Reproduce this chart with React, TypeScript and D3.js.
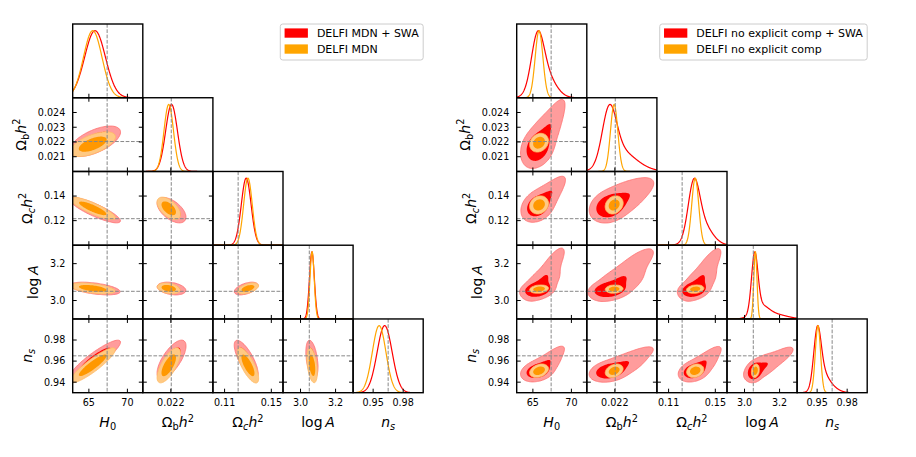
import { useEffect, useRef } from 'react';
import * as d3 from 'd3';

// parameter axes shared by both corner plots: H0, Ωbh², Ωch², logA, ns
const paramRanges: [number, number][] = [[62.9, 72.0], [0.02, 0.025], [0.1, 0.16], [2.9, 3.3], [0.93, 1.0]];
const xTicks: number[][] = [[65, 70], [0.022], [0.11, 0.15], [3.0, 3.2], [0.95, 0.98]];
const yTicks: number[][] = [[], [0.021, 0.022, 0.023, 0.024], [0.12, 0.14], [3.0, 3.2], [0.94, 0.96, 0.98]];
const tickFormats = ['d', '.3f', '.2f', '.1f', '.2f'];
const truth = [67.37, 0.02203, 0.1216, 3.05, 0.965];

// order of the correlation coefficients below
const pairOrder = [[0, 1], [0, 2], [0, 3], [0, 4], [1, 2], [1, 3], [1, 4], [2, 3], [2, 4], [3, 4]];

// left plot: DELFI MDN (+ SWA)
const mdnSwaMean = [65.8, 0.02205, 0.1285, 3.065, 0.9615];
const mdnSwaSd = [1.35, 0.00042, 0.0042, 0.014, 0.0075];
const mdnSwaCorr = [0.6, -0.85, -0.5, 0.9, -0.55, -0.3, 0.7, 0.5, -0.75, -0.4];
const mdnMean = [65.5, 0.02185, 0.13, 3.066, 0.956];
const mdnSd = [1.2, 0.00034, 0.0037, 0.012, 0.0068];
const mdnCorr = [0.6, -0.85, -0.5, 0.9, -0.55, -0.3, 0.7, 0.5, -0.75, -0.4];

// right plot: DELFI no explicit comp (+ SWA); the SWA posterior is a core with a long skewed tail
const noCompMean = [65.8, 0.02195, 0.1328, 3.062, 0.9508];
const noCompSd = [0.5, 0.00026, 0.003, 0.009, 0.0026];
const noCompCorr = [0.2, 0.15, 0.2, 0.3, 0.2, 0.1, 0.3, 0.2, 0.2, 0.2];
const noCompSwaWeights = [0.55, 0.3, 0.15];
const noCompSwaCoreMean = [65.6, 0.0216, 0.1315, 3.058, 0.9502];
const noCompSwaCoreSd = [0.8, 0.0005, 0.0048, 0.018, 0.0036];
const noCompSwaCoreCorr = [0.2, 0.2, 0.2, 0.2, 0.2, 0.2, 0.2, 0.2, 0.2, 0.2];
const noCompSwaMidMean = [66.1, 0.0222, 0.1355, 3.09, 0.954];
const noCompSwaMidSd = [1.2, 0.0009, 0.0075, 0.045, 0.006];
const noCompSwaMidCorr = [0.55, 0.55, 0.55, 0.55, 0.45, 0.55, 0.55, 0.55, 0.55, 0.55];
const noCompSwaTailMean = [67.3, 0.0232, 0.143, 3.18, 0.962];
const noCompSwaTailSd = [1.1, 0.001, 0.0075, 0.065, 0.0075];
const noCompSwaTailCorr = [0.8, 0.8, 0.8, 0.8, 0.65, 0.8, 0.8, 0.8, 0.8, 0.8];

const leftLabels = ['DELFI MDN + SWA', 'DELFI MDN'];
const rightLabels = ['DELFI no explicit comp + SWA', 'DELFI no explicit comp'];

type Component = { weight: number; mean: number[]; sd: number[]; corr: number[] };
type Posterior = { label: string; line: string; inner: string; outer: string; edge: string; components: Component[] };

const redStyle = { line: '#ff0000', inner: '#ff0000', outer: '#ff9c9c', edge: '#ff6e6e' };
const orangeStyle = { line: '#ffa500', inner: '#ff9800', outer: '#ffc983', edge: '#ffbb66' };

const plots: { x0: number; posteriors: Posterior[] }[] = [
  {
    x0: 72.7,
    posteriors: [
      { label: leftLabels[0], ...redStyle, components: [{ weight: 1, mean: mdnSwaMean, sd: mdnSwaSd, corr: mdnSwaCorr }] },
      { label: leftLabels[1], ...orangeStyle, components: [{ weight: 1, mean: mdnMean, sd: mdnSd, corr: mdnCorr }] },
    ],
  },
  {
    x0: 516.7,
    posteriors: [
      {
        label: rightLabels[0], ...redStyle,
        components: [
          { weight: noCompSwaWeights[0], mean: noCompSwaCoreMean, sd: noCompSwaCoreSd, corr: noCompSwaCoreCorr },
          { weight: noCompSwaWeights[1], mean: noCompSwaMidMean, sd: noCompSwaMidSd, corr: noCompSwaMidCorr },
          { weight: noCompSwaWeights[2], mean: noCompSwaTailMean, sd: noCompSwaTailSd, corr: noCompSwaTailCorr },
        ],
      },
      { label: rightLabels[1], ...orangeStyle, components: [{ weight: 1, mean: noCompMean, sd: noCompSd, corr: noCompCorr }] },
    ],
  },
];

// mathtext-like axis labels: [text, italic, shift(0 normal, 1 sub, -1 sup)]
const axisLabels: [string, boolean, number][][] = [
  [['H', true, 0], ['0', false, 1]],
  [['Ω', false, 0], ['b', false, 1], ['h', true, 0], ['2', false, -1]],
  [['Ω', false, 0], ['c', true, 1], ['h', true, 0], ['2', false, -1]],
  [['log\u2009', false, 0], ['A', true, 0]],
  [['n', true, 0], ['s', true, 1]],
];

const corrIndex = (i: number, j: number) =>
  pairOrder.findIndex(([a, b]) => (a === i && b === j) || (a === j && b === i));

const density1D = (p: Posterior, k: number, v: number) =>
  d3.sum(p.components, c => (c.weight * Math.exp(-0.5 * ((v - c.mean[k]) / c.sd[k]) ** 2)) / c.sd[k]);

const density2D = (p: Posterior, i: number, j: number, x: number, y: number) =>
  d3.sum(p.components, c => {
    const r = c.corr[corrIndex(i, j)];
    const u = (x - c.mean[i]) / c.sd[i];
    const w = (y - c.mean[j]) / c.sd[j];
    const q = (u * u - 2 * r * u * w + w * w) / (1 - r * r);
    return (c.weight * Math.exp(-0.5 * q)) / (c.sd[i] * c.sd[j] * Math.sqrt(1 - r * r));
  });

const Y0 = 24;
const W = 70.1;
const H = 73.74;
const FONT = 'DejaVu Sans';

const App = () => {
  const chartRef = useRef<SVGSVGElement>(null);

  useEffect(() => {
    if (!chartRef.current) return;
    const svg = d3.select(chartRef.current);
    svg.selectAll('*').remove();
    const defs = svg.append('defs');

    const addLabel = (sel: any, parts: [string, boolean, number][]) => {
      let cur = 0;
      parts.forEach(([t, it, sh]) => {
        const target = sh === 1 ? 3.2 : sh === -1 ? -5.5 : 0;
        const ts = sel.append('tspan').text(t).attr('dy', target - cur);
        if (it) ts.attr('font-style', 'italic');
        if (sh !== 0) ts.attr('font-size', '70%');
        cur = target;
      });
    };

    plots.forEach((plot, pi) => {
      const g = svg.append('g');
      const tickLen = 4;

      for (let r = 0; r < 5; r++) {
        for (let c = 0; c <= r; c++) {
          const px = plot.x0 + c * W;
          const py = Y0 + r * H;
          const x = d3.scaleLinear().domain(paramRanges[c]).range([px, px + W]);
          const clipId = `clip-${pi}-${r}-${c}`;
          defs.append('clipPath').attr('id', clipId)
            .append('rect').attr('x', px).attr('y', py).attr('width', W).attr('height', H);
          const panel = g.append('g');
          const inner = panel.append('g').attr('clip-path', `url(#${clipId})`);

          if (r === c) {
            // 1D marginals, peak normalised to 1
            const y = d3.scaleLinear().domain([0, 1.1]).range([py + H, py]);
            const [lo, hi] = paramRanges[c];
            const grid = d3.range(0, 301).map(k => lo + (k / 300) * (hi - lo));
            plot.posteriors.forEach(p => {
              const vals = grid.map(v => density1D(p, c, v));
              const mx = d3.max(vals) || 1;
              const line = d3.line<number>().x((_, k) => x(grid[k])).y(d => y(d / mx));
              inner.append('path').attr('d', line(vals)).attr('fill', 'none')
                .attr('stroke', p.line).attr('stroke-width', 1.2);
            });
            inner.append('line').attr('x1', x(truth[c])).attr('x2', x(truth[c]))
              .attr('y1', py).attr('y2', py + H)
              .attr('stroke', '#888').attr('stroke-width', 1).attr('stroke-dasharray', '3.7,1.6');
            xTicks[c].forEach(t => {
              panel.append('line').attr('x1', x(t)).attr('x2', x(t))
                .attr('y1', py + H).attr('y2', py + H - tickLen).attr('stroke', '#000').attr('stroke-width', 1);
            });
          } else {
            // 2D contours, 68% and 95%
            const y = d3.scaleLinear().domain(paramRanges[r]).range([py + H, py]);
            const N = 150;
            const ext = (rg: [number, number]) => {
              const s = rg[1] - rg[0];
              return [rg[0] - 0.7 * s, rg[1] + 0.7 * s];
            };
            const ex = ext(paramRanges[c]);
            const ey = ext(paramRanges[r]);
            const gx = d3.scaleLinear().domain([0.5, N - 0.5]).range(ex);
            const gy = d3.scaleLinear().domain([0.5, N - 0.5]).range(ey);
            const proj = d3.geoTransform({
              point(a: number, b: number) {
                (this as any).stream.point(x(gx(a)), y(gy(b)));
              },
            });
            const path = d3.geoPath(proj);
            plot.posteriors.forEach(p => {
              const values = new Float64Array(N * N);
              for (let j = 0; j < N; j++) {
                const yv = gy(j + 0.5);
                for (let i = 0; i < N; i++) values[j * N + i] = density2D(p, c, r, gx(i + 0.5), yv);
              }
              const sorted = Float64Array.from(values).sort();
              const total = d3.sum(sorted);
              let acc = 0;
              let t68 = 0;
              let t95 = 0;
              for (let k = sorted.length - 1; k >= 0; k--) {
                acc += sorted[k];
                if (!t68 && acc >= 0.68 * total) t68 = sorted[k];
                if (acc >= 0.95 * total) { t95 = sorted[k]; break; }
              }
              const cs = d3.contours().size([N, N]).thresholds([t95, t68])(Array.from(values));
              inner.append('path').attr('d', path(cs[0] as any)).attr('fill', p.outer)
                .attr('fill-rule', 'evenodd').attr('stroke', p.edge).attr('stroke-width', 0.8);
              inner.append('path').attr('d', path(cs[1] as any)).attr('fill', p.inner)
                .attr('fill-rule', 'evenodd').attr('stroke', 'none');
            });
            inner.append('line').attr('x1', x(truth[c])).attr('x2', x(truth[c]))
              .attr('y1', py).attr('y2', py + H)
              .attr('stroke', '#888').attr('stroke-width', 1).attr('stroke-dasharray', '3.7,1.6');
            inner.append('line').attr('x1', px).attr('x2', px + W)
              .attr('y1', y(truth[r])).attr('y2', y(truth[r]))
              .attr('stroke', '#888').attr('stroke-width', 1).attr('stroke-dasharray', '3.7,1.6');
            xTicks[c].forEach(t => {
              panel.append('line').attr('x1', x(t)).attr('x2', x(t))
                .attr('y1', py + H).attr('y2', py + H - tickLen).attr('stroke', '#000').attr('stroke-width', 1);
              panel.append('line').attr('x1', x(t)).attr('x2', x(t))
                .attr('y1', py).attr('y2', py + tickLen).attr('stroke', '#000').attr('stroke-width', 1);
            });
            yTicks[r].forEach(t => {
              panel.append('line').attr('x1', px).attr('x2', px + tickLen)
                .attr('y1', y(t)).attr('y2', y(t)).attr('stroke', '#000').attr('stroke-width', 1);
              panel.append('line').attr('x1', px + W).attr('x2', px + W - tickLen)
                .attr('y1', y(t)).attr('y2', y(t)).attr('stroke', '#000').attr('stroke-width', 1);
            });
            if (c === 0) {
              const lab = panel.append('g');
              yTicks[r].forEach(t => {
                lab.append('text').attr('x', px - 7.4).attr('y', y(t)).attr('dy', '0.35em')
                  .attr('text-anchor', 'end').attr('font-family', FONT).attr('font-size', 9.6)
                  .text(d3.format(tickFormats[r])(t));
              });
              const bb = (lab.node() as SVGGElement).getBBox();
              const t = panel.append('text')
                .attr('transform', `translate(${bb.x - 12},${py + H / 2}) rotate(-90)`)
                .attr('text-anchor', 'middle').attr('font-family', FONT).attr('font-size', 14);
              addLabel(t, axisLabels[r]);
            }
          }

          if (r === 4) {
            xTicks[c].forEach(t => {
              panel.append('text').attr('x', x(t)).attr('y', 406.3).attr('text-anchor', 'middle')
                .attr('font-family', FONT).attr('font-size', 9.6).text(d3.format(tickFormats[c])(t));
            });
            const t = panel.append('text').attr('x', px + W / 2).attr('y', 427)
              .attr('text-anchor', 'middle').attr('font-family', FONT).attr('font-size', 14);
            addLabel(t, axisLabels[c]);
          }

          panel.append('rect').attr('x', px).attr('y', py).attr('width', W).attr('height', H)
            .attr('fill', 'none').attr('stroke', '#000').attr('stroke-width', 1.4);
        }
      }

      // legend
      const right = plot.x0 + 5 * W;
      const leg = g.append('g');
      const box = leg.append('rect');
      let maxW = 0;
      plot.posteriors.forEach((p, k) => {
        const cy = Y0 + 9 + k * 16;
        leg.append('rect').attr('y', cy - 4.6).attr('height', 9.3).attr('width', 23.3)
          .attr('fill', p.line).attr('class', 'patch');
        const tx = leg.append('text').attr('y', cy + 4).attr('font-family', FONT).attr('font-size', 11)
          .attr('class', 'ltext').text(p.label);
        maxW = Math.max(maxW, (tx.node() as SVGTextElement).getComputedTextLength());
      });
      const left = right - (36.6 + maxW + 4.5);
      leg.selectAll('.patch').attr('x', left + 4.3);
      leg.selectAll('.ltext').attr('x', left + 36.6);
      box.attr('x', left).attr('y', Y0).attr('width', right - left).attr('height', 36)
        .attr('rx', 2.5).attr('fill', '#fff').attr('fill-opacity', 0.8)
        .attr('stroke', '#cccccc').attr('stroke-width', 1);
    });
  }, []);

  return (
    <div style={{ position: 'absolute', left: 0, top: 0 }}>
      <svg ref={chartRef} width={916} height={457} style={{ display: 'block', background: '#fff' }} />
    </div>
  );
};

export default App;
